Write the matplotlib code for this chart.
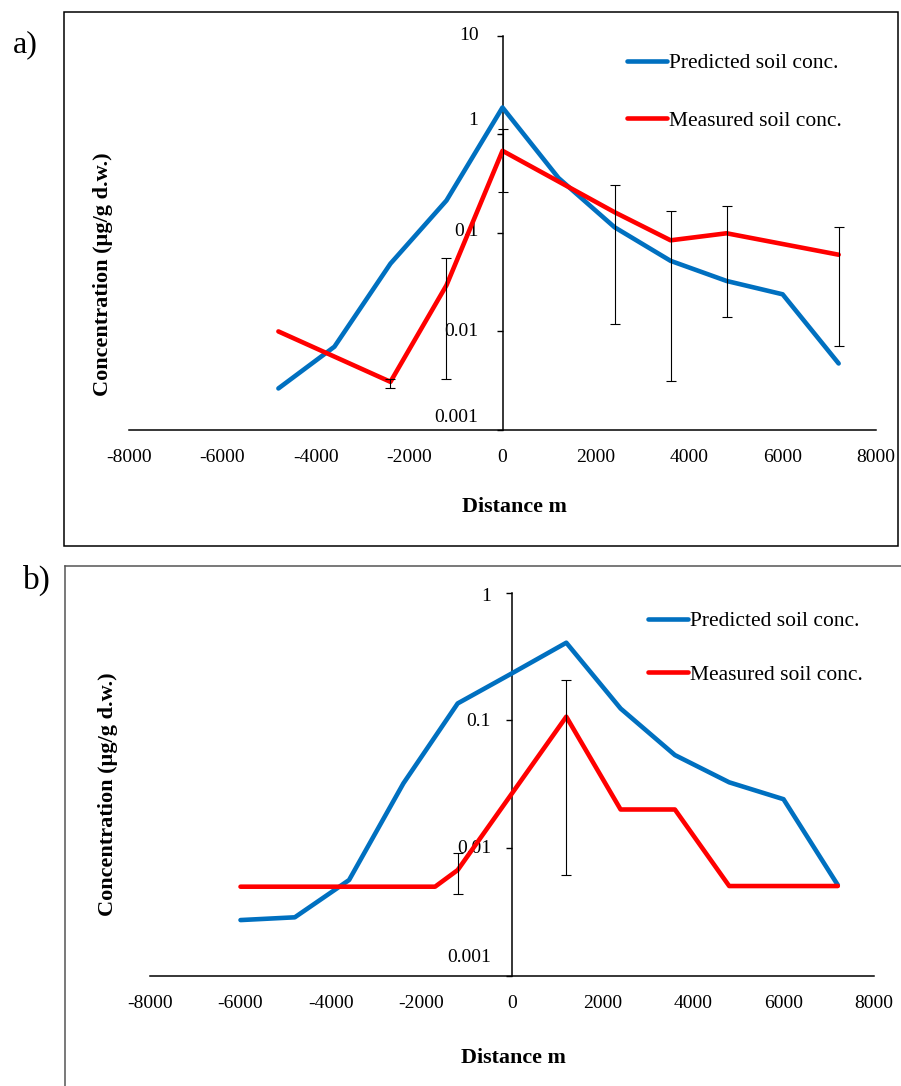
import numpy as np
import matplotlib
matplotlib.use("Agg")
import matplotlib.pyplot as plt
from matplotlib.patches import Rectangle
from matplotlib.lines import Line2D
from matplotlib.ticker import NullLocator

# ---------------- data ----------------
# panel a
dist_pred_a = [-4800, -3600, -2400, -1200, 0, 1200, 2400, 3600, 4800, 6000, 7200]
pred_a = [0.00264, 0.0070, 0.0487, 0.213, 1.87, 0.36, 0.114, 0.052, 0.0325, 0.0238, 0.00473]
dist_meas_a = [-4800, -2400, -1200, 0, 2400, 3600, 4800, 7200]
meas_a = [0.0100, 0.00308, 0.0294, 0.68, 0.162, 0.084, 0.099, 0.060]
err_hi_a = [np.nan, 0.00328, 0.0555, 1.14, 0.309, 0.166, 0.186, 0.114]
err_lo_a = [np.nan, 0.00266, 0.00326, 0.257, 0.0118, 0.00316, 0.0140, 0.00713]

# panel b
dist_pred_b = [-6000, -4800, -3600, -2400, -1200, 0, 1200, 2400, 3600, 4800, 6000, 7200]
pred_b = [0.00274, 0.00288, 0.00564, 0.0322, 0.136, 0.234, 0.406, 0.124, 0.0536, 0.0328, 0.0242, 0.00515]
dist_meas_b = [-6000, -1700, -1200, 1200, 2400, 3600, 4800, 7200]
meas_b = [0.0050, 0.0050, 0.00675, 0.107, 0.0201, 0.0201, 0.00506, 0.00506]
err_hi_b = [np.nan, np.nan, 0.00912, 0.207, np.nan, np.nan, np.nan, np.nan]
err_lo_b = [np.nan, np.nan, 0.00436, 0.00616, np.nan, np.nan, np.nan, np.nan]

x_ticks = [-8000, -6000, -4000, -2000, 0, 2000, 4000, 6000, 8000]
x_ticklabels = ["-8000", "-6000", "-4000", "-2000", "0", "2000", "4000", "6000", "8000"]
y_ticks_a = [0.001, 0.01, 0.1, 1, 10]
y_ticklabels_a = ["0.001", "0.01", "0.1", "1", "10"]
y_ticks_b = [0.001, 0.01, 0.1, 1]
y_ticklabels_b = ["0.001", "0.01", "0.1", "1"]

series_names = ["Predicted soil conc.", "Measured soil conc."]
xlabel = "Distance m"
ylabel = "Concentration (\u00b5g/g d.w.)"

# ---------------- style ----------------
plt.rcParams["font.family"] = ["Liberation Serif", "DejaVu Serif"]
plt.rcParams["axes.unicode_minus"] = False

BLUE = "#0070C0"
RED = "#FF0000"
W, H = 901, 1086
fig = plt.figure(figsize=(W / 100, H / 100), dpi=100)


def px_axes(l, t, r, b):
    return fig.add_axes([l / W, 1 - b / H, (r - l) / W, (b - t) / H])


def draw_panel(ax, xp, yp, xm, ym, hi, lo, yticks, ylabels, ytop, ypad_px, label_shifts,
               xpad, leg_xy, leg_spacing):
    ax.patch.set_alpha(0)
    ax.set_yscale("log")
    ax.set_xlim(-8000, 8000)
    ax.set_ylim(0.001, ytop)
    ax.plot(xp, yp, color=BLUE, lw=3.3, solid_capstyle="round", solid_joinstyle="round",
            zorder=3, label=series_names[0])
    ax.plot(xm, ym, color=RED, lw=3.3, solid_capstyle="round", solid_joinstyle="round",
            zorder=4, label=series_names[1])
    ym_arr = np.array(ym)
    yerr = [ym_arr - np.array(lo), np.array(hi) - ym_arr]
    ax.errorbar(xm, ym, yerr=yerr, fmt="none", ecolor="black", elinewidth=0.8,
                capsize=3.3, capthick=0.8, zorder=5)

    for s in ("top", "right"):
        ax.spines[s].set_visible(False)
    ax.spines["left"].set_position(("data", 0))
    ax.spines["left"].set_linewidth(1.1)
    ax.spines["bottom"].set_linewidth(1.1)
    ax.set_xticks(x_ticks)
    ax.set_xticklabels(x_ticklabels)
    ax.tick_params(axis="x", length=0, pad=xpad, labelsize=14)
    ax.set_yticks(yticks)
    ax.set_yticklabels([])
    ax.yaxis.set_minor_locator(NullLocator())
    ax.tick_params(axis="y", which="major", direction="out", length=4.5, width=1.0)
    # y tick labels placed beside their ticks (a few sit slightly off, as in the original)
    for val, lab, dy in zip(yticks, ylabels, label_shifts):
        ax.annotate(lab, xy=(0, val), xycoords="data", xytext=(-ypad_px, dy),
                    textcoords="offset pixels", ha="right", va="center", fontsize=14)

    leg = ax.legend(loc="upper left", bbox_to_anchor=(leg_xy[0] / W, 1 - leg_xy[1] / H),
                    bbox_transform=fig.transFigure, frameon=False, fontsize=15.5,
                    handlelength=1.85, handletextpad=0.12, labelspacing=leg_spacing,
                    borderpad=0, borderaxespad=0)
    for h in leg.get_lines():
        h.set_linewidth(3.3)


# panel a
ax_a = px_axes(129, 35.7, 876, 430)
draw_panel(ax_a, dist_pred_a, pred_a, dist_meas_a, meas_a, err_hi_a, err_lo_a,
           y_ticks_a, y_ticklabels_a, 10, 24, [13, 0, 1, 14, 0], 14, (627, 53), 1.75)

# panel b
ax_b = px_axes(150, 592.7, 874, 976)
draw_panel(ax_b, dist_pred_b, pred_b, dist_meas_b, meas_b, err_hi_b, err_lo_b,
           y_ticks_b, y_ticklabels_b, 1, 21, [18, 0, -1, -4], 14, (648, 611), 1.55)

# axis titles
fig.text(514 / W, 1 - 507 / H, xlabel, ha="center", va="center", fontsize=15.8, fontweight="bold")
fig.text(103 / W, 1 - 274 / H, ylabel, ha="center", va="center", rotation=90,
         fontsize=16, fontweight="bold")
fig.text(513 / W, 1 - 1058 / H, xlabel, ha="center", va="center", fontsize=15.8, fontweight="bold")
fig.text(108 / W, 1 - 794 / H, ylabel, ha="center", va="center", rotation=90,
         fontsize=16, fontweight="bold")

# panel labels
fig.text(25 / W, 1 - 45 / H, "a)", ha="center", va="center", fontsize=23)
fig.text(37 / W, 1 - 580 / H, "b)", ha="center", va="center", fontsize=24)

# frames
fig.add_artist(Rectangle((64 / W, 1 - 546 / H), (898 - 64) / W, (546 - 11.5) / H,
                         transform=fig.transFigure, fill=False, lw=1.1, ec="black"))
fig.add_artist(Line2D([65 / W, 1.0], [1 - 565.5 / H, 1 - 565.5 / H],
                      transform=fig.transFigure, lw=1.1, color="#555555"))
fig.add_artist(Line2D([65 / W, 65 / W], [1 - 565.5 / H, 0.0],
                      transform=fig.transFigure, lw=1.1, color="#555555"))

fig.savefig("out.png", dpi=100)
